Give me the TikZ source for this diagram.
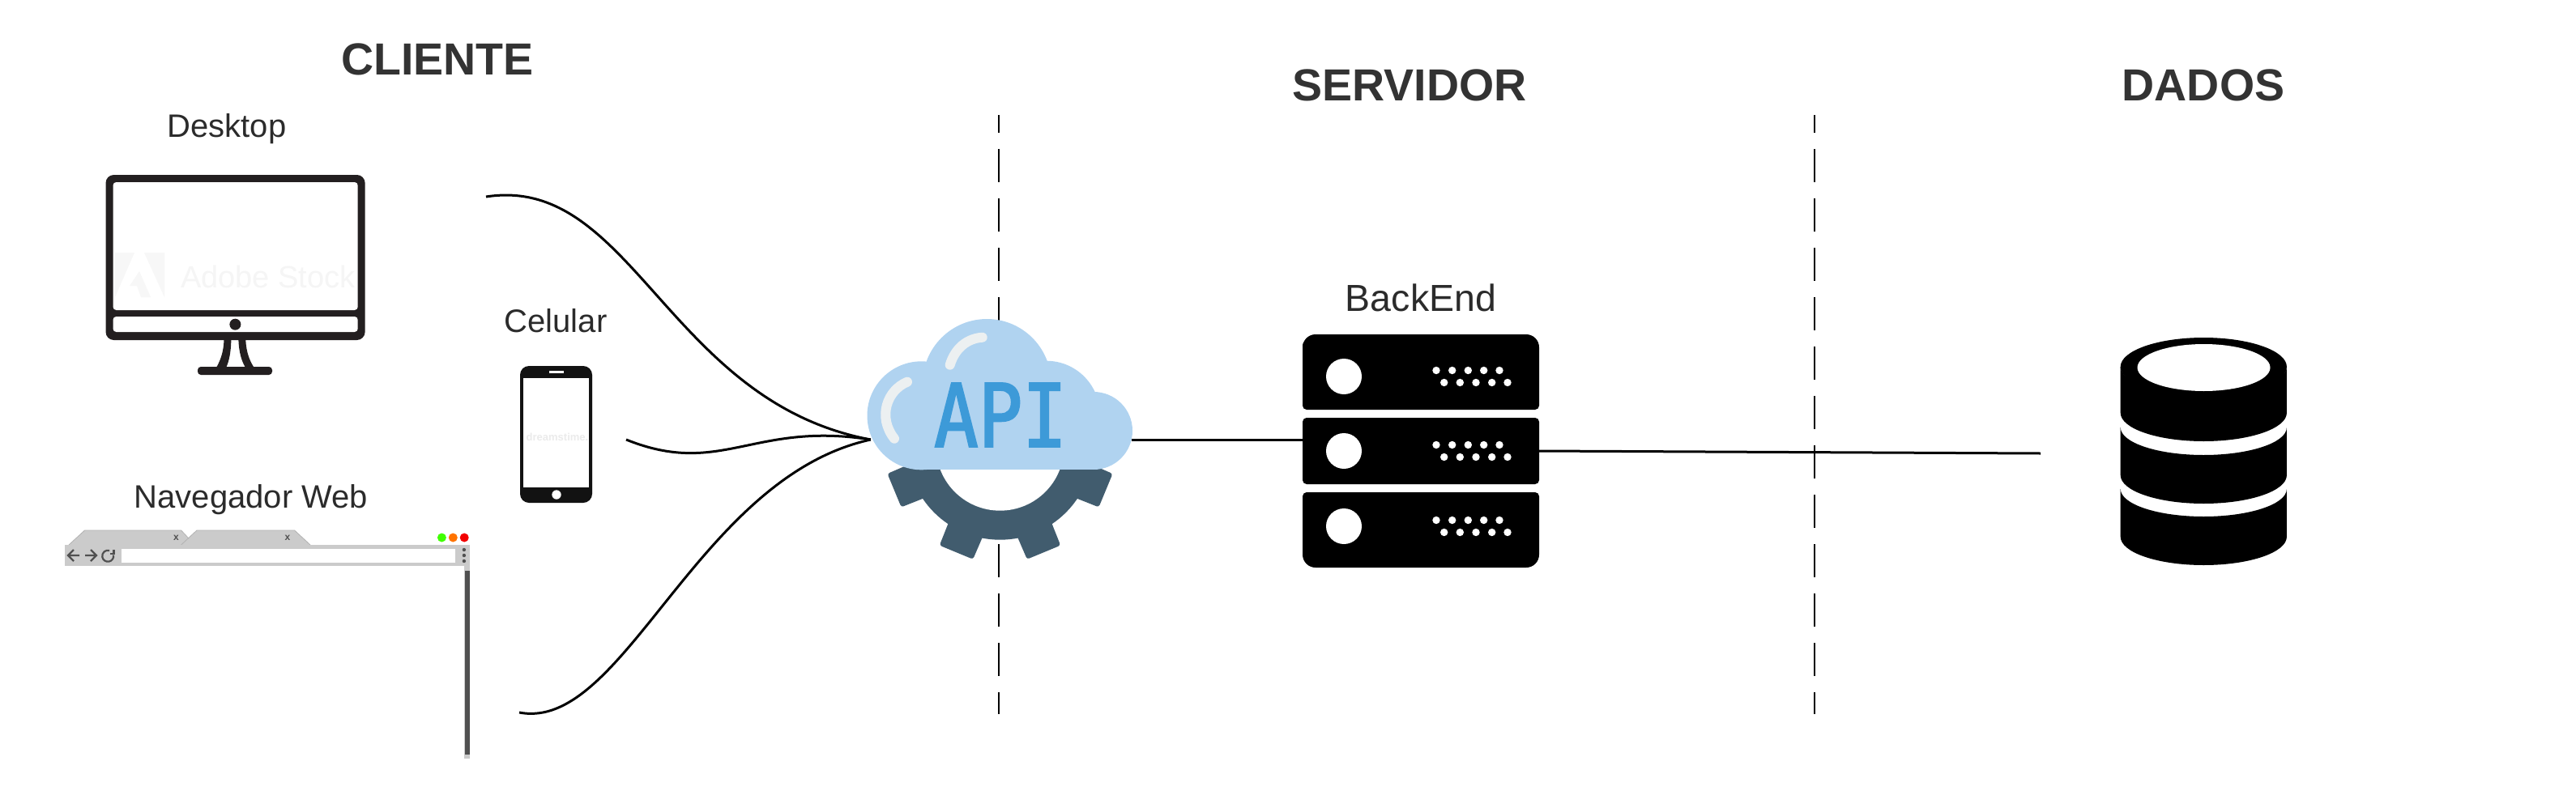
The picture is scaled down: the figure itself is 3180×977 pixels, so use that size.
\documentclass[tikz,border=0pt]{standalone}
\usepackage{fontspec}
\usetikzlibrary{arrows.meta,positioning}
\setmainfont{Liberation Sans}
\newfontfamily\apifont[FakeStretch=0.84,FakeBold=2]{DejaVu Sans Mono}
\definecolor{inkgray}{HTML}{333333}
\definecolor{labelgray}{HTML}{2B2B2B}
\definecolor{monitorink}{HTML}{231F20}
\definecolor{barfill}{HTML}{CBCBCB}
\definecolor{barink}{HTML}{505050}
\definecolor{cloudfill}{HTML}{B0D3F0}
\definecolor{apiblue}{HTML}{3D9AD8}
\definecolor{shine}{HTML}{ECF0F1}
\definecolor{gearfill}{HTML}{415C6E}
\begin{document}
\begin{tikzpicture}[
    x=1pt, y=-1pt,
    title/.style={font=\fontsize{55.5}{60}\selectfont\bfseries, text=inkgray, inner sep=0pt},
    label/.style={font=\fontsize{40}{46}\selectfont, text=labelgray, inner sep=0pt},
    anchorbox/.style={inner sep=0pt, minimum width=#1},
    wire/.style={line width=3pt, draw=black},
    divider/.style={line width=2.2pt, draw=black, dash pattern=on 41pt off 20pt, dash phase=19pt},
    srvrow/.style={fill=black, rounded corners=5pt, inner sep=0pt, minimum width=292pt, minimum height=82pt},
    navicon/.style={line width=2.2pt, draw=barink},
    faint/.style={inner sep=0pt, text=black!4}
]
  \useasboundingbox (0,0) rectangle (3180,977);

  % dashed dividers
  \coordinate (divAtop) at (1233,142);
  \coordinate (divAbot) at (1233,882);
  \coordinate (divBtop) at (2240,142);
  \coordinate (divBbot) at (2240,882);
  \draw[divider] (divAtop) -- (divAbot);
  \draw[divider] (divBtop) -- (divBbot);

  % titles and labels
  \node[title] (cliente) at (540,73) {CLIENTE};
  \node[title] (servidor) at (1740,105) {SERVIDOR};
  \node[title] (dados) at (2720,105) {DADOS};
  \node[label] (desktop) at (280,159) {Desktop};
  \node[label] (celular) at (686,396) {Celular};
  \node[label] (navegador) at (310,617) {Navegador Web};
  \node[label, font=\fontsize{46.5}{52}\selectfont] (backend) at (1754,368) {BackEnd};

  % monitor
  \fill[monitorink, rounded corners=10pt] (130.5,216) rectangle (450.6,420);
  \fill[white, rounded corners=4pt] (139.5,225) rectangle (441.7,383);
  \fill[white, rounded corners=4pt] (139.5,391) rectangle (441.7,410);
  \fill[monitorink] (290.4,400.7) circle [radius=7];
  \fill[monitorink] (276.5,420) .. controls (276,435) and (272,445) .. (267.6,453) -- (279.6,453) .. controls (283,445) and (285,435) .. (285.4,420) -- cycle;
  \fill[monitorink] (303.3,420) .. controls (304,435) and (308,445) .. (313,453) -- (302.4,453) .. controls (298,445) and (295,435) .. (294.4,420) -- cycle;
  \fill[monitorink, rounded corners=4pt] (244,453) rectangle (336,463);
  \fill[black!3] (142,312) -- (166,312) -- (142,367) -- cycle;
  \fill[black!3] (178,312) -- (203,312) -- (203,367) -- cycle;
  \fill[black!3] (172,335) -- (186,367) -- (174,367) -- (169,353) -- (160,353) -- cycle;
  \node[faint, font=\fontsize{38}{42}\selectfont] (adobe) at (331,342) {Adobe Stock};

  % phone
  \fill[black!93, rounded corners=11pt] (642,452) rectangle (731,621);
  \fill[white] (646,467) rectangle (727,602);
  \fill[white] (678,458) rectangle (696,460.5);
  \fill[white] (687,611) circle [radius=5.7];
  \node[faint, font=\fontsize{13}{15}\selectfont\bfseries, text=black!8] (dreamstime) at (688,540) {dreamstime.};

  % browser
  \fill[barfill] (85,673) -- (104.6,655) -- (223.6,655) -- (233,665) -- (226,673) -- cycle;
  \fill[barfill] (223.6,673) -- (243,655) -- (363.6,655) -- (383,673) -- cycle;
  \draw[black!30, line width=0.8pt] (223.6,673) -- (243,655) -- (363.6,655) -- (383,673);
  \draw[black!30, line width=0.8pt] (85,673) -- (104.6,655) -- (223.6,655) -- (233,665);
  \node[inner sep=0pt, font=\fontsize{12}{14}\selectfont\bfseries, text=barink] (tabA) at (217.5,664) {x};
  \node[inner sep=0pt, font=\fontsize{12}{14}\selectfont\bfseries, text=barink] (tabB) at (355,664) {x};
  \fill[barfill] (80.4,673) rectangle (580,699);
  \fill[white] (150,678) rectangle (562,695);
  \fill[green!75!yellow] (545.4,664) circle [radius=5.5];
  \fill[orange!90!red] (559.3,664) circle [radius=5.5];
  \fill[red!95!black] (573.2,664) circle [radius=5.5];
  \draw[navicon] (98,686) -- (84,686) (91,679) -- (84,686) -- (91,693);
  \draw[navicon] (105,686) -- (119,686) (112,679) -- (119,686) -- (112,693);
  \draw[navicon] (140.1,685.5) arc [start angle=-10, end angle=285, radius=7];
  \draw[navicon] (140.5,679) -- (140.5,684) -- (135.5,684);
  \foreach \doty in {679,686,693}
    \fill[barink] (572.9,\doty) circle [radius=2.2];
  \fill[barfill] (572.5,699) rectangle (580,937);
  \fill[barink] (573.6,705) rectangle (580,932);

  % gear, below the cloud
  \begin{scope}[shift={(1234.5,551.7)}]
    \fill[gearfill] (0,0) circle [radius=115];
    \foreach \ang in {22.5,67.5,112.5,157.5}
      \fill[gearfill, rounded corners=3pt] (\ang-12:110) -- (\ang-9:143) -- (\ang+9:143) -- (\ang+12:110) -- cycle;
    \fill[white] (0,0) circle [radius=79];
  \end{scope}

  % cloud
  \fill[cloudfill] (1137.5,513.3) circle [radius=67];
  \fill[cloudfill] (1218.3,473.3) circle [radius=79.3];
  \fill[cloudfill] (1291.7,511.7) circle [radius=66];
  \fill[cloudfill] (1350,532) circle [radius=48];
  \fill[cloudfill] (1137,500) rectangle (1350,580);
  \draw[shine, line width=12pt, line cap=round] (1172.7,450.7) .. controls (1179,430) and (1194,418) .. (1212.7,416.7);
  \draw[shine, line width=12pt, line cap=round] (1120,471.7) .. controls (1095,482) and (1083,515) .. (1104,541.7);
  \node[inner sep=0pt, text=apiblue, font=\fontsize{108}{110}\apifont\selectfont] (apitext) at (1235,512.5) {API};
  \node[anchorbox=322pt, minimum height=10pt] (api) at (1236,543) {};

  % server
  \fill[black] (1608,506) [rounded corners=5pt] -- (1608,428) [rounded corners=16pt] -- (1608,413) -- (1900,413) [rounded corners=5pt] -- (1900,506) -- cycle;
  \node[srvrow] (srvmid) at (1754,557) {};
  \fill[black] (1608,608) [rounded corners=5pt] -- (1900,608) [rounded corners=16pt] -- (1900,701) -- (1608,701) [rounded corners=5pt] -- cycle;
  \foreach \rowy in {465,557,650} {
    \fill[white] (1659,\rowy) circle [radius=22];
    \foreach \dotx in {1773,1792.7,1812.3,1831.7,1851}
      \fill[white] (\dotx,\rowy-7.5) circle [radius=4.7];
    \foreach \dotx in {1782.7,1802.3,1822,1841.7,1861}
      \fill[white] (\dotx,\rowy+7.5) circle [radius=4.7];
  }

  % database
  \fill[black] (2720.3,453) circle [x radius=102.6, y radius=36];
  \foreach \topy/\boty in {453/510,528/587,604/663}
    \fill[black] (2617.7,\topy) -- (2617.7,\boty) arc [start angle=180, end angle=0, x radius=102.6, y radius=35]
      -- (2822.9,\topy) arc [start angle=0, end angle=180, x radius=102.6, y radius=34] -- cycle;
  \fill[white] (2720.5,454) circle [x radius=82, y radius=29];

  % connectors
  \coordinate (deskout) at (600,243);
  \coordinate (celout) at (773,543);
  \coordinate (navout) at (641,880);
  \coordinate (dbin) at (2519,560);
  \draw[wire] (deskout) .. controls (780,215) and (824,496) .. (api.west);
  \draw[wire] (celout) .. controls (890,590) and (930,520) .. (api.west);
  \draw[wire] (navout) .. controls (770,905) and (860,590) .. (api.west);
  \draw[wire] (api.east) -- (api.east -| srvmid.west);
  \draw[wire] (srvmid.east) -- (dbin);
\end{tikzpicture}
\end{document}
